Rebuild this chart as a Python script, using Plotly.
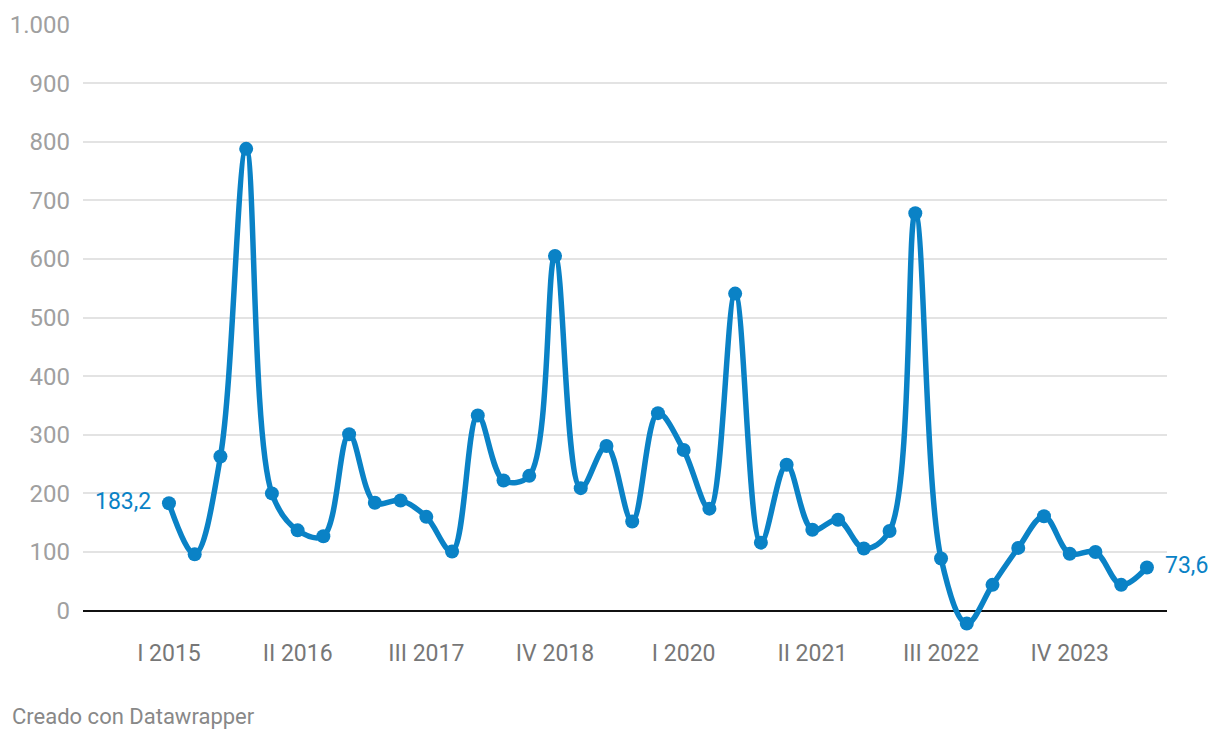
import plotly.graph_objects as go

roman = ["I", "II", "III", "IV"]
quarters = [f"{roman[i % 4]} {2015 + i // 4}" for i in range(39)]

values = [183.2, 96, 263, 788, 200, 137, 127, 301, 184, 188, 160, 101,
          333, 222, 230, 605, 209, 281, 152, 337, 274, 174, 541, 116,
          249, 138, 155, 106, 136, 678, 89, -22, 44, 107, 161, 97,
          100, 44, 73.6]

tick_labels = ["I 2015", "II 2016", "III 2017", "IV 2018", "I 2020",
               "II 2021", "III 2022", "IV 2023"]

blue = "#0a82c6"

fig = go.Figure()
fig.add_trace(go.Scatter(
    x=quarters, y=values, mode="lines+markers",
    line=dict(color=blue, width=5.5, shape="spline", smoothing=1.0),
    marker=dict(color=blue, size=14),
    cliponaxis=False, hoverinfo="skip", showlegend=False,
))

fig.add_annotation(x=quarters[0], y=values[0], text="183,2", showarrow=False,
                   xanchor="right", xshift=-16, yshift=2,
                   font=dict(family="Roboto", size=23, color=blue))
fig.add_annotation(x=quarters[-1], y=values[-1], text="73,6", showarrow=False,
                   xanchor="left", xshift=16, yshift=2,
                   font=dict(family="Roboto", size=23, color=blue))

fig.add_annotation(xref="paper", yref="paper", x=-73/1084, y=-79/613,
                   xanchor="left", yanchor="middle", showarrow=False,
                   text="Creado con Datawrapper",
                   font=dict(family="Roboto", size=22, color="#888888"))

fig.update_layout(
    width=1212, height=732,
    margin=dict(l=75, r=53, t=16, b=103),
    paper_bgcolor="white", plot_bgcolor="white",
    separators=",.",
    font=dict(family="Roboto"),
    xaxis=dict(type="category", range=[-3.34, 38.78], automargin=False,
               tickmode="array", tickvals=tick_labels, ticktext=tick_labels,
               showgrid=False, zeroline=False, showline=False,
               ticks="", tickfont=dict(size=23, color="#777777"),
               fixedrange=True),
    yaxis=dict(range=[-45, 1001], tickvals=list(range(0, 1001, 100)),
               automargin=False,
               tickformat=",d", showgrid=True, gridcolor="#e3e3e3", gridwidth=1.5,
               zeroline=True, zerolinecolor="#111111", zerolinewidth=2,
               showline=False, ticks="", ticklabelstandoff=12,
               tickfont=dict(size=24, color="#a0a0a0"), fixedrange=True),
)

fig.write_html("out.html")
